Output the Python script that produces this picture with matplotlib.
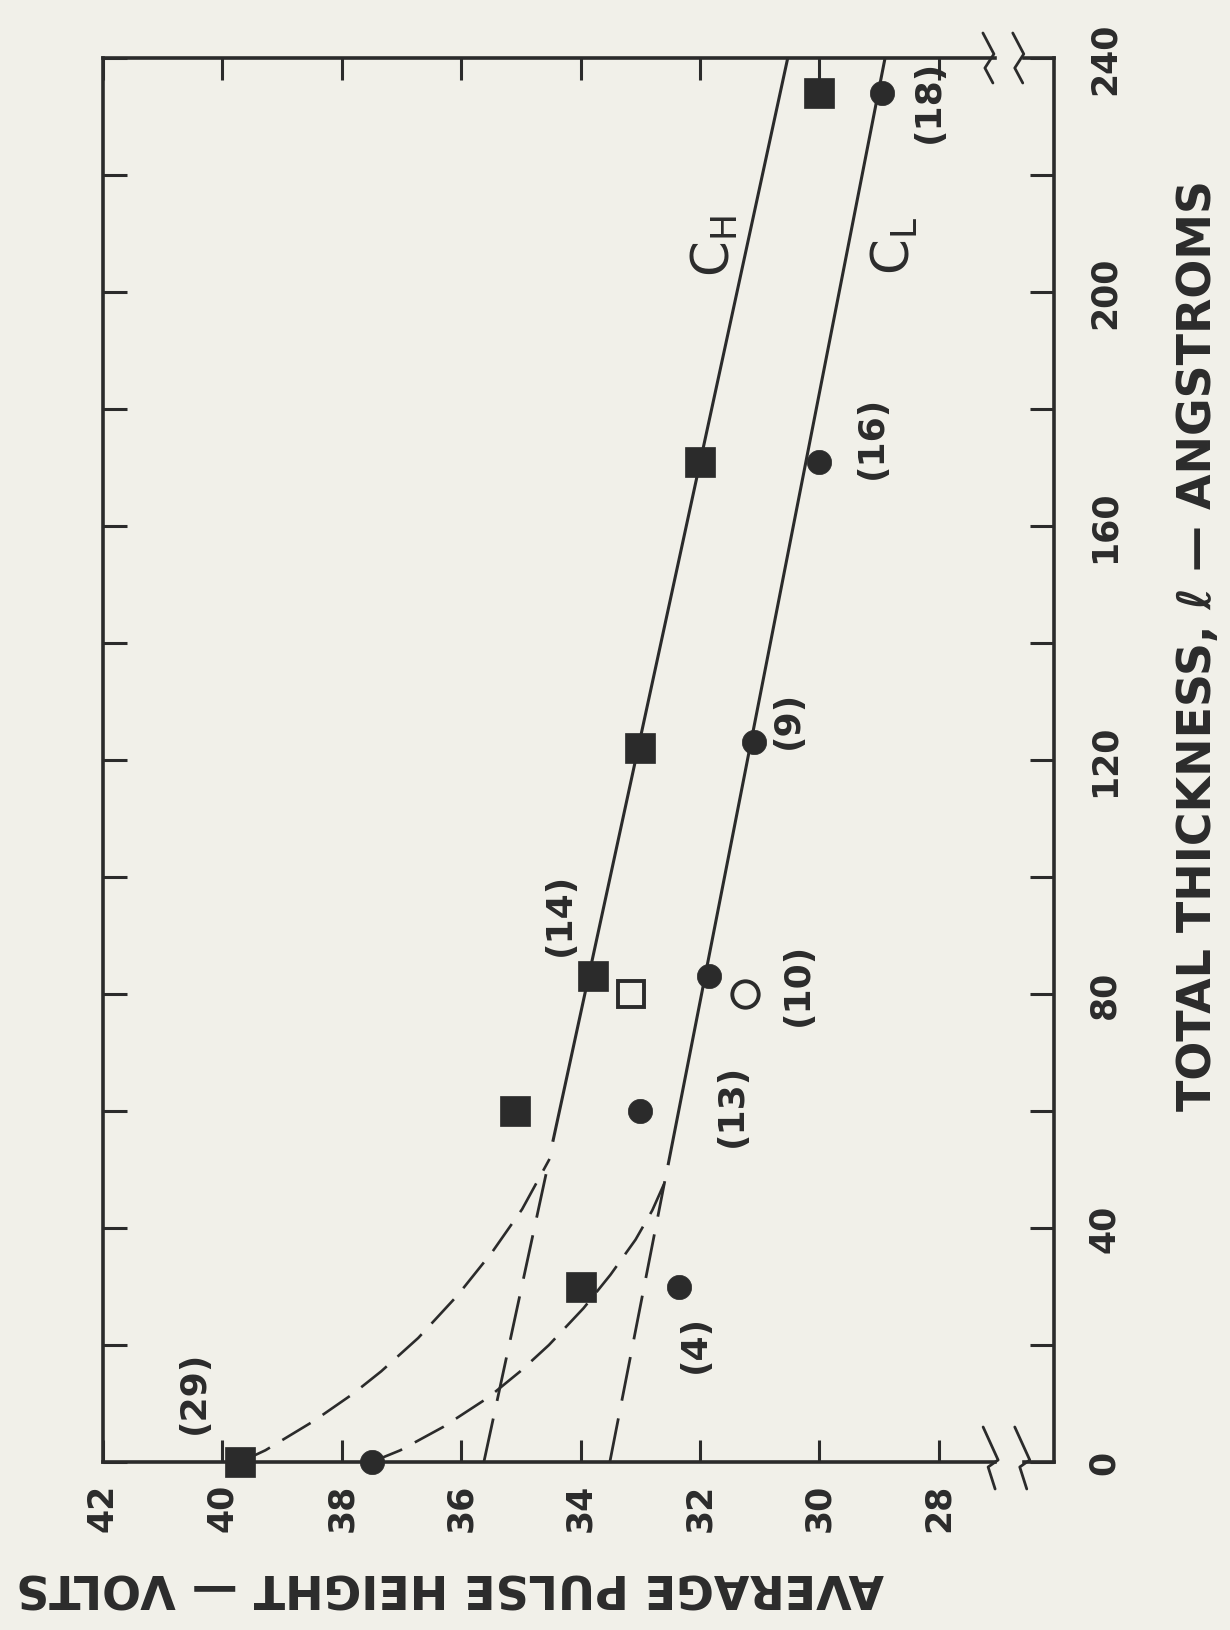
import matplotlib
matplotlib.use("Agg")
import matplotlib.pyplot as plt
import matplotlib.transforms as mtransforms

INK = "#2b2b2b"
PAPER = "#f1f0e9"

plt.rcParams["font.family"] = ["DejaVu Sans"]
plt.rcParams["mathtext.fontset"] = "custom"
plt.rcParams["mathtext.rm"] = "DejaVu Sans"

# ---- measured points: total thickness (angstroms) vs average pulse height (volts)
thick_h = [0, 30, 60, 83, 122, 171, 234]
pulse_h = [39.7, 34.0, 35.1, 33.8, 33.0, 32.0, 30.0]
thick_l = [0, 30, 60, 83, 123, 171, 234]
pulse_l = [37.5, 32.35, 33.0, 31.85, 31.1, 30.0, 28.95]
thick_open_h = [80]
pulse_open_h = [33.15]
thick_open_l = [80]
pulse_open_l = [31.25]

# ---- straight fits (solid part and dashed extrapolation to zero thickness)
ch_solid_t = [55, 240]
ch_solid_v = [34.46, 30.53]
ch_dash_t = [0, 52]
ch_dash_v = [35.62, 34.52]
cl_solid_t = [51, 240]
cl_solid_v = [32.53, 28.90]
cl_dash_t = [0, 48]
cl_dash_v = [33.51, 32.59]

# ---- hand-drawn dashed curves from the zero-thickness points
ch_curve_t = [0.0, 2.0, 7.0, 11.6, 15.5, 21.2, 28.5, 35.9, 43.2, 51.8]
ch_curve_v = [39.7, 39.28, 38.47, 37.82, 37.34, 36.72, 36.06, 35.48, 34.98, 34.52]
cl_curve_t = [0.0, 2.0, 6.0, 11.0, 15.5, 20.0, 26.3, 32.0, 38.0, 43.0, 47.8]
cl_curve_v = [37.5, 37.02, 36.30, 35.55, 35.01, 34.53, 33.95, 33.50, 33.08, 32.80, 32.59]

# ---- run counts written beside the points
count_text = ["(29)", "(4)", "(13)", "(14)", "(10)", "(9)", "(16)", "(18)"]
count_pos_v = [40.47, 32.08, 31.47, 34.34, 30.36, 30.53, 29.12, 28.16]
count_pos_t = [12.0, 20.3, 61.2, 93.8, 81.9, 127.0, 175.4, 232.7]

pulse_ticks = [42, 40, 38, 36, 34, 32, 30, 28]
thick_major = [0, 40, 80, 120, 160, 200, 240]
thick_minor = [20, 60, 100, 140, 180, 220]

V_LEFT, V_RIGHT = 42.0, 26.07
BREAK_LO, BREAK_HI = 27.06, 26.58

fig = plt.figure(figsize=(12.30, 16.31), dpi=100, facecolor=PAPER)
ax = fig.add_axes([103 / 1230, 168 / 1631, 951 / 1230, 1404 / 1631])
ax.set_facecolor(PAPER)
ax.set_xlim(V_LEFT, V_RIGHT)
ax.set_ylim(0, 240)

# frame: left/right spines as usual, top/bottom drawn with a scale break
for side in ("top", "bottom"):
    ax.spines[side].set_visible(False)
for side in ("left", "right"):
    ax.spines[side].set_linewidth(2.6)
    ax.spines[side].set_color(INK)
xt = ax.get_xaxis_transform()
for yy in (0, 1):
    ax.plot([V_LEFT, BREAK_LO], [yy, yy], transform=xt, color=INK, lw=2.6,
            clip_on=False, solid_capstyle="projecting", zorder=3)
    ax.plot([BREAK_HI, V_RIGHT], [yy, yy], transform=xt, color=INK, lw=2.6,
            clip_on=False, solid_capstyle="projecting", zorder=3)


def break_mark(v, yax, pts):
    base = mtransforms.ScaledTranslation(v, yax, xt)
    tr = mtransforms.Affine2D().scale(1 / 100.0) + fig.dpi_scale_trans + base
    xs = [p[0] for p in pts]
    ys = [p[1] for p in pts]
    ax.plot(xs, ys, transform=tr, color=INK, lw=2.0, clip_on=False,
            solid_joinstyle="round", solid_capstyle="round", zorder=3)


zig_bottom = [(-7, 35), (8, 2), (-2, -5), (5, -27)]
zig_top = [(-9, 25), (2, 4), (-7, -10), (1, -25)]
break_mark(BREAK_LO + 0.08, 0, zig_bottom)
break_mark(BREAK_HI + 0.03, 0, zig_bottom)
break_mark(BREAK_LO + 0.05, 1, zig_top)
break_mark(BREAK_HI + 0.03, 1, zig_top)

# ticks
ax.set_xticks(pulse_ticks)
ax.set_xticklabels([str(t) for t in pulse_ticks])
ax.set_yticks(thick_major)
ax.set_yticks(thick_minor, minor=True)
ax.set_yticklabels([str(t) for t in thick_major])
ax.tick_params(axis="x", which="both", direction="in", length=16, width=2.2,
               top=True, bottom=True, labelbottom=True, labeltop=False,
               labelrotation=90, pad=15, labelsize=25, colors=INK)
ax.tick_params(axis="y", which="both", direction="in", length=17, width=2.2,
               left=True, right=True, labelleft=False, labelright=True,
               labelrotation=90, pad=24, labelsize=25, colors=INK)
for lbl in ax.get_xticklabels() + ax.get_yticklabels():
    lbl.set_fontweight("bold")
for lbl in ax.get_yticklabels():
    lbl.set_va("center")

# fitted lines
ax.plot(ch_solid_v, ch_solid_t, color=INK, lw=2.2, zorder=2)
ax.plot(cl_solid_v, cl_solid_t, color=INK, lw=2.2, zorder=2)
ax.plot(ch_dash_v, ch_dash_t, color=INK, lw=2.0, dashes=(16, 6.5), zorder=2)
ax.plot(cl_dash_v, cl_dash_t, color=INK, lw=2.0, dashes=(16, 6.5), zorder=2)
ax.plot(ch_curve_v, ch_curve_t, color=INK, lw=1.9, dashes=(12.5, 5.5),
        solid_joinstyle="round", zorder=2)
ax.plot(cl_curve_v, cl_curve_t, color=INK, lw=1.9, dashes=(12.5, 5.5),
        solid_joinstyle="round", zorder=2)

# data points
ax.plot(pulse_h, thick_h, "s", ms=21.5, color=INK, mec=INK, mew=0.5,
        clip_on=False, zorder=4)
ax.plot(pulse_l, thick_l, "o", ms=17.5, color=INK, mec=INK, mew=0.5,
        clip_on=False, zorder=4)
ax.plot(pulse_open_h, thick_open_h, "s", ms=18.5, mfc="none", mec=INK,
        mew=2.8, zorder=4)
ax.plot(pulse_open_l, thick_open_l, "o", ms=19, mfc="none", mec=INK,
        mew=2.8, zorder=4)

for txt, v, t in zip(count_text, count_pos_v, count_pos_t):
    ax.text(v, t, txt, rotation=90, ha="center", va="center", fontsize=26,
            fontweight="bold", color=INK, zorder=5)

ax.text(31.75, 208.0, r"$\mathrm{C}_{\mathrm{H}}$", rotation=90, ha="center",
        va="center", fontsize=37, color=INK, zorder=5)
ax.text(28.73, 208.0, r"$\mathrm{C}_{\mathrm{L}}$", rotation=90, ha="center",
        va="center", fontsize=37, color=INK, zorder=5)

fig.text(1198 / 1230, 1 - 646 / 1631, "TOTAL THICKNESS, ℓ — ANGSTROMS",
         rotation=90, ha="center", va="center", fontsize=33,
         fontweight="bold", color=INK)
fig.text(450 / 1230, 1 - 1586 / 1631, "AVERAGE PULSE HEIGHT — VOLTS",
         rotation=180, ha="center", va="center", fontsize=33,
         fontweight="bold", color=INK)

fig.savefig("out.png", dpi=100, facecolor=PAPER)
